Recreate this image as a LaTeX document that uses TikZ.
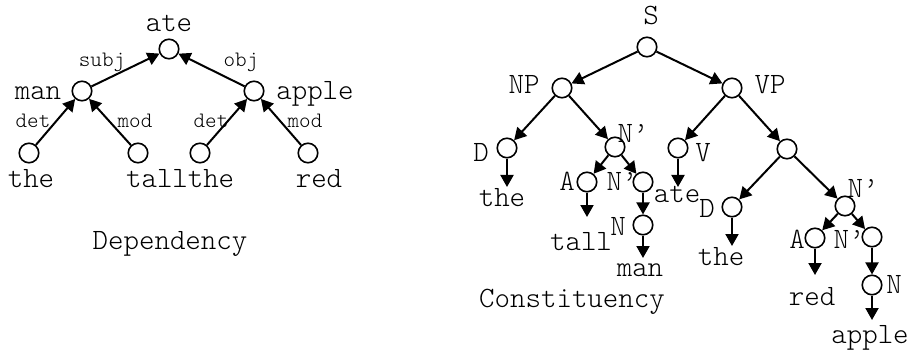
\documentclass[tikz,border=0pt]{standalone}
\usetikzlibrary{arrows.meta}
\begin{document}
\begin{tikzpicture}[x=1pt,y=-1pt,
  nd/.style={circle,draw,line width=1.6pt,minimum size=19.5pt,inner sep=0pt},
  word/.style={font=\fontfamily{lmtt}\fontseries{l}\fontsize{29.5}{34}\selectfont,inner sep=0pt,anchor=base},
  lab/.style={font=\fontfamily{lmtt}\fontseries{l}\fontsize{22}{25}\selectfont,inner sep=0pt,anchor=base},
  arr/.style={line width=2pt,-{Triangle[length=12pt,width=13pt]}}]
\useasboundingbox (0,0) rectangle (908,350);
% ---------------- Dependency ----------------
\node[nd] (ate) at (169,49) {};
\node[nd] (man) at (82,91) {};
\node[nd] (apple) at (254,91) {};
\node[nd] (the1) at (29,153) {};
\node[nd] (tall) at (138,153) {};
\node[nd] (the2) at (200,153) {};
\node[nd] (red) at (308,153) {};
\node[word] (wate) at (169,32) {ate};
\node[word] (wman) at (38,100) {man};
\node[word] (wapple) at (315,100) {apple};
\node[word] (wthe1) at (31,188) {the};
\node[word] (wtall) at (157,188) {tall};
\node[word] (wthe2) at (211,188) {the};
\node[word] (wred) at (319,188) {red};
\draw[arr] (man) -- (ate);
\draw[arr] (apple) -- (ate);
\draw[arr] (the1) -- (man);
\draw[arr] (tall) -- (man);
\draw[arr] (the2) -- (apple);
\draw[arr] (red) -- (apple);
\node[lab] (lsubj) at (102,67) {subj};
\node[lab] (lobj) at (241,67) {obj};
\node[lab] (ldet1) at (33,128) {det};
\node[lab] (lmod1) at (135,128) {mod};
\node[lab] (ldet2) at (211,128) {det};
\node[lab] (lmod2) at (305,128) {mod};
\node[word] (cdep) at (170,249) {Dependency};
% ---------------- Constituency ----------------
\node[nd] (S) at (647,47) {};
\node[nd] (NP) at (562,88) {};
\node[nd] (VP) at (732,88) {};
\node[nd] (D1) at (507,148) {};
\node[nd] (Nb1) at (615,147) {};
\node[nd] (V) at (678,148) {};
\node[nd] (X) at (787,149) {};
\node[nd] (A1) at (587,182) {};
\node[nd] (Nb2) at (643,182) {};
\node[nd] (N1) at (643,225) {};
\node[nd] (D2) at (732,207) {};
\node[nd] (Nb3) at (845,206) {};
\node[nd] (A2) at (815,238) {};
\node[nd] (Nb4) at (872,237) {};
\node[nd] (N2) at (872,285) {};
% labels
\node[word] (lS) at (651,25) {S};
\node[word] (lNP) at (524,94) {NP};
\node[word] (lVP) at (770,94) {VP};
\node[word] (lD1) at (481,162) {D};
\node[word] (lNb1) at (633,143) {N’};
\node[word] (lA1) at (567,190) {A};
\node[word] (lNb2) at (622,190) {N’};
\node[word] (lV) at (703,161) {V};
\node[word] (lN1) at (618,235) {N};
\node[word] (lD2) at (707,217) {D};
\node[word] (lNb3) at (863,197) {N’};
\node[word] (lA2) at (797,248) {A};
\node[word] (lNb4) at (849,248) {N’};
\node[word] (lN2) at (894,293) {N};
% words
\node[word] (cthe1) at (502,206) {the};
\node[word] (cate) at (677,202) {ate};
\node[word] (ctall) at (581,250) {tall};
\node[word] (cman) at (640,276) {man};
\node[word] (cthe2) at (721,265) {the};
\node[word] (cred) at (812,305) {red};
\node[word] (capple) at (870,343) {apple};
\coordinate (tD1) at (507,187);
\coordinate (tV) at (678,187);
\coordinate (tA1) at (587,217);
\coordinate (tN1) at (643,258);
\coordinate (tD2) at (732,246);
\coordinate (tA2) at (815,275);
\coordinate (tN2) at (872,320);
\draw[arr] (S) -- (NP);
\draw[arr] (S) -- (VP);
\draw[arr] (NP) -- (D1);
\draw[arr] (NP) -- (Nb1);
\draw[arr] (VP) -- (V);
\draw[arr] (VP) -- (X);
\draw[arr] (Nb1) -- (A1);
\draw[arr] (Nb1) -- (Nb2);
\draw[arr] (Nb2) -- (N1);
\draw[arr] (X) -- (D2);
\draw[arr] (X) -- (Nb3);
\draw[arr] (Nb3) -- (A2);
\draw[arr] (Nb3) -- (Nb4);
\draw[arr] (Nb4) -- (N2);
\draw[arr] (D1) -- (tD1);
\draw[arr] (V) -- (tV);
\draw[arr] (A1) -- (tA1);
\draw[arr] (N1) -- (tN1);
\draw[arr] (D2) -- (tD2);
\draw[arr] (A2) -- (tA2);
\draw[arr] (N2) -- (tN2);
\node[word] (ccon) at (572,307) {Constituency};
\end{tikzpicture}
\end{document}
